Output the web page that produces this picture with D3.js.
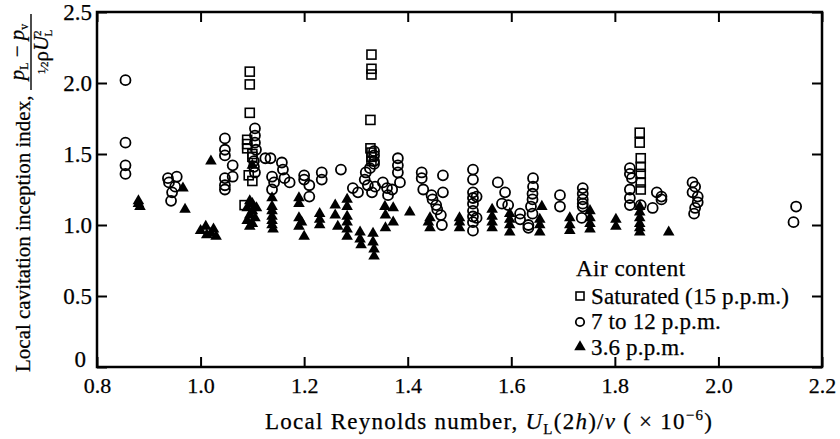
<!DOCTYPE html>
<html lang="en">
<meta charset="utf-8">
<style>
  body { margin: 0; background: #fff; }
  svg text { font-family: "Liberation Serif", "Times New Roman", serif; fill: #000; stroke: #000; stroke-width: 0.25px; }
  .frame { fill: none; stroke: #000; stroke-width: 2.5px; }
  .axis path { display: none; }
  .axis line { stroke: #000; stroke-width: 2px; }
  .circ { fill: none; stroke: #000; stroke-width: 1.8px; }
  .sq { fill: none; stroke: #000; stroke-width: 1.6px; }
  .tri { fill: #000; }
</style>
<body>
<div id="chart"></div>
<script src="https://d3js.org/d3.v7.min.js"></script>
<script>
"use strict";

// tick values
const xTicks = [0.8, 1.0, 1.2, 1.4, 1.6, 1.8, 2.0, 2.2];
const yTicks = [0, 0.5, 1.0, 1.5, 2.0, 2.5];

// air content: saturated (15 p.p.m.) -- [Reynolds, index]
const saturated = [
  [1.095, 2.08], [1.095, 1.99], [1.095, 1.79], [1.09, 1.60], [1.09, 1.57], [1.09, 1.54],
  [1.10, 1.50], [1.10, 1.48], [1.093, 1.35], [1.10, 1.31], [1.085, 1.14],
  [1.33, 2.20], [1.33, 2.10], [1.33, 2.06], [1.328, 1.74], [1.328, 1.54], [1.33, 1.51],
  [1.33, 1.48], [1.33, 1.45],
  [1.848, 1.65], [1.848, 1.58], [1.85, 1.47], [1.85, 1.41], [1.85, 1.36], [1.85, 1.30], [1.85, 1.25]
];

// air content: 7 to 12 p.p.m.
const midAir = [
  [0.855, 2.02], [0.855, 1.58], [0.855, 1.42], [0.855, 1.36],
  [0.954, 1.34], [0.937, 1.33], [0.951, 1.27], [0.939, 1.30], [0.945, 1.23], [0.943, 1.17],
  [1.047, 1.61], [1.047, 1.53], [1.047, 1.49], [1.062, 1.42], [1.062, 1.34], [1.047, 1.33],
  [1.047, 1.28], [1.047, 1.25],
  [1.105, 1.68], [1.105, 1.63], [1.105, 1.58], [1.107, 1.53], [1.103, 1.45], [1.103, 1.41], [1.105, 1.37],
  [1.125, 1.47], [1.135, 1.47], [1.138, 1.34], [1.142, 1.30], [1.138, 1.25],
  [1.157, 1.44], [1.159, 1.39], [1.162, 1.33], [1.172, 1.30],
  [1.20, 1.35], [1.20, 1.32], [1.21, 1.28], [1.21, 1.20],
  [1.234, 1.37], [1.234, 1.32], [1.271, 1.39],
  [1.294, 1.26], [1.304, 1.23], [1.317, 1.32], [1.323, 1.28], [1.331, 1.23], [1.319, 1.37],
  [1.327, 1.40], [1.337, 1.27],
  [1.335, 1.52], [1.335, 1.49], [1.335, 1.45], [1.335, 1.43],
  [1.381, 1.47], [1.381, 1.42], [1.381, 1.37], [1.385, 1.30],
  [1.352, 1.30], [1.36, 1.26], [1.362, 1.21], [1.37, 1.25],
  [1.427, 1.37], [1.427, 1.33], [1.43, 1.25], [1.446, 1.21], [1.448, 1.18], [1.455, 1.14],
  [1.457, 1.11], [1.464, 1.07], [1.466, 1.00], [1.468, 1.35], [1.468, 1.23],
  [1.526, 1.39], [1.526, 1.32], [1.526, 1.23], [1.526, 1.19], [1.526, 1.15], [1.526, 1.10],
  [1.526, 1.06], [1.526, 1.02], [1.526, 0.96], [1.533, 1.20], [1.533, 1.05],
  [1.574, 1.30], [1.588, 1.23], [1.582, 1.15], [1.594, 1.14],
  [1.617, 1.08], [1.617, 1.04], [1.633, 1.00], [1.633, 0.98],
  [1.642, 1.33], [1.642, 1.27], [1.641, 1.22], [1.641, 1.18], [1.638, 1.13], [1.641, 1.08],
  [1.694, 1.21], [1.694, 1.13],
  [1.738, 1.26], [1.738, 1.22], [1.738, 1.18], [1.738, 1.15], [1.738, 1.13], [1.736, 1.05],
  [1.829, 1.40], [1.829, 1.36], [1.833, 1.33], [1.829, 1.25], [1.829, 1.19], [1.829, 1.14], [1.85, 1.14],
  [1.881, 1.23], [1.89, 1.20], [1.89, 1.18], [1.873, 1.12],
  [1.95, 1.30], [1.955, 1.27], [1.95, 1.23], [1.96, 1.20], [1.96, 1.16], [1.955, 1.12], [1.953, 1.08],
  [2.15, 1.13], [2.145, 1.02]
];

// air content: 3.6 p.p.m.
const lowAir = [
  [0.88, 1.17], [0.88, 1.15], [0.883, 1.13],
  [0.966, 1.26], [0.970, 1.11],
  [1.00, 0.96], [1.01, 0.99], [1.02, 0.94], [1.03, 0.92], [1.025, 0.97], [1.012, 0.93],
  [1.02, 1.45],
  [1.10, 1.42], [1.095, 1.17], [1.10, 1.15], [1.09, 1.12], [1.10, 1.10], [1.095, 1.07],
  [1.105, 1.05], [1.09, 1.03], [1.10, 1.01], [1.095, 0.99], [1.108, 1.12],
  [1.138, 1.19], [1.138, 1.13], [1.138, 1.10], [1.138, 1.06], [1.138, 1.03], [1.138, 1.00], [1.14, 0.97],
  [1.19, 1.19], [1.19, 1.15], [1.19, 1.05], [1.195, 1.02], [1.19, 0.99], [1.20, 0.92],
  [1.23, 1.08], [1.23, 1.04], [1.23, 1.00],
  [1.26, 1.14], [1.26, 1.07], [1.265, 0.99],
  [1.283, 1.18], [1.283, 1.13], [1.283, 1.06], [1.283, 1.02], [1.283, 0.97], [1.283, 0.92],
  [1.308, 0.95], [1.308, 0.90], [1.31, 0.86],
  [1.333, 0.94], [1.333, 0.88], [1.335, 0.83], [1.335, 0.78],
  [1.356, 1.13], [1.357, 1.07], [1.372, 1.12], [1.372, 1.02], [1.357, 0.98], [1.404, 1.09],
  [1.443, 1.05], [1.443, 0.98], [1.44, 1.02],
  [1.50, 1.05], [1.50, 1.02], [1.50, 0.98],
  [1.563, 1.11], [1.563, 1.06], [1.563, 1.02], [1.563, 0.98],
  [1.597, 1.08], [1.597, 1.04], [1.597, 1.00], [1.597, 0.95],
  [1.659, 1.13], [1.655, 1.04], [1.655, 1.00], [1.655, 0.95],
  [1.713, 1.05], [1.713, 1.00], [1.713, 0.96],
  [1.752, 1.10], [1.752, 1.05], [1.752, 1.01], [1.752, 0.97],
  [1.802, 1.04], [1.802, 0.99],
  [1.848, 1.13], [1.848, 1.09], [1.848, 1.05], [1.848, 1.01], [1.848, 0.98], [1.848, 0.95],
  [1.904, 0.95]
];

const legendLabels = ["Saturated (15 p.p.m.)", "7 to 12 p.p.m.", "3.6 p.p.m."];

const W = 840, H = 439;
const margin = {top: 12, right: 18, bottom: 72, left: 97};

const svg = d3.select("#chart").append("svg")
  .attr("width", W).attr("height", H);

const x = d3.scaleLinear().domain([0.8, 2.2]).range([margin.left, W - margin.right]);
const y = d3.scaleLinear().domain([0, 2.5]).range([H - margin.bottom, margin.top]);

const fmt = d => d === 0 ? "0" : d3.format(".1f")(d);

// axes, ticks pointing inward
const gx = svg.append("g").attr("class", "axis")
  .attr("transform", "translate(0," + y(0) + ")")
  .call(d3.axisBottom(x).tickValues(xTicks).tickFormat(d3.format(".1f"))
    .tickSizeInner(-10).tickSizeOuter(0).tickPadding(10));
gx.selectAll("text").style("font-size", "22px");

svg.append("g").attr("class", "axis")
  .attr("transform", "translate(0," + y(2.5) + ")")
  .call(d3.axisTop(x).tickValues(xTicks).tickFormat("")
    .tickSizeInner(-10).tickSizeOuter(0));

const gy = svg.append("g").attr("class", "axis")
  .attr("transform", "translate(" + x(0.8) + ",0)")
  .call(d3.axisLeft(y).tickValues(yTicks).tickFormat(fmt)
    .tickSizeInner(-10).tickSizeOuter(0).tickPadding(5));
gy.selectAll("text").style("font-size", "23px");
// lift the "0" so it clears "0.8"
gy.selectAll("text").filter(d => d === 0).attr("y", -8).attr("x", -11);

svg.append("g").attr("class", "axis")
  .attr("transform", "translate(" + x(2.2) + ",0)")
  .call(d3.axisRight(y).tickValues(yTicks).tickFormat("")
    .tickSizeInner(-10).tickSizeOuter(0));

svg.append("rect").attr("class", "frame")
  .attr("x", x(0.8)).attr("y", y(2.5))
  .attr("width", x(2.2) - x(0.8)).attr("height", y(0) - y(2.5));

// markers
const triangle = d3.symbol().type(d3.symbolTriangle).size(58);

svg.append("g").selectAll("path")
  .data(lowAir).join("path")
  .attr("class", "tri")
  .attr("d", triangle)
  .attr("transform", d => "translate(" + x(d[0]) + "," + y(d[1]) + ")");

svg.append("g").selectAll("circle")
  .data(midAir).join("circle")
  .attr("class", "circ")
  .attr("cx", d => x(d[0])).attr("cy", d => y(d[1])).attr("r", 5);

svg.append("g").selectAll("rect")
  .data(saturated).join("rect")
  .attr("class", "sq")
  .attr("x", d => x(d[0]) - 4.5).attr("y", d => y(d[1]) - 4.5)
  .attr("width", 9).attr("height", 9);

// legend
const lg = svg.append("g").attr("transform", "translate(575,0)");
lg.append("text").attr("x", 1).attr("y", 276)
  .style("font-size", "23px").style("letter-spacing", "0.5px").text("Air content");
const rows = [304, 329, 355];
lg.append("rect").attr("class", "sq").attr("x", 1).attr("y", rows[0] - 12).attr("width", 8).attr("height", 8);
lg.append("circle").attr("class", "circ").attr("cx", 5).attr("cy", rows[1] - 7).attr("r", 4.2);
lg.append("path").attr("class", "tri").attr("d", triangle)
  .attr("transform", "translate(5," + (rows[2] - 8) + ")");
legendLabels.forEach((t, i) => {
  lg.append("text").attr("x", 16).attr("y", rows[i])
    .style("font-size", "23px").style("letter-spacing", "0.15px").text(t);
});

// x axis title, stretched to the width it has in the figure
const xt = svg.append("text")
  .attr("x", 265).attr("y", 429)
  .attr("textLength", 447).attr("lengthAdjust", "spacing")
  .style("font-size", "23px");
xt.append("tspan").text("Local Reynolds number, ");
xt.append("tspan").style("font-style", "italic").text("U");
xt.append("tspan").attr("dy", 5).style("font-size", "15px").text("L");
xt.append("tspan").attr("dy", -5).text("(2");
xt.append("tspan").style("font-style", "italic").text("h");
xt.append("tspan").text(")/");
xt.append("tspan").style("font-style", "italic").text("ν");
xt.append("tspan").text(" ( × 10");
xt.append("tspan").attr("dy", -9).style("font-size", "15px").text("−6");
xt.append("tspan").attr("dy", 9).text(")");

// y axis title, rotated
const yt = svg.append("g").attr("transform", "translate(30,372) rotate(-90)");
yt.append("text").attr("x", 0).attr("y", 0).style("font-size", "21px")
  .text("Local cavitation inception index,");
// fraction
const fr = svg.append("g").attr("transform", "translate(0,52) rotate(-90)");
const num = fr.append("text").attr("x", 0).attr("y", 24).attr("text-anchor", "middle")
  .style("font-size", "21px");
num.append("tspan").style("font-style", "italic").text("p");
num.append("tspan").attr("dy", 4).style("font-size", "12px").text("L");
num.append("tspan").attr("dy", -4).text(" − ");
num.append("tspan").style("font-style", "italic").text("p");
num.append("tspan").attr("dy", 4).style("font-size", "12px").text("v");
fr.append("line").attr("x1", -38).attr("x2", 38).attr("y1", 31).attr("y2", 31)
  .attr("stroke", "#000").attr("stroke-width", 1.4);
const den = fr.append("text").attr("x", 0).attr("y", 48).attr("text-anchor", "middle")
  .style("font-size", "21px");
den.append("tspan").attr("dy", -3).style("font-size", "11px").text("1");
den.append("tspan").attr("dy", 3).style("font-size", "11px").text("⁄2");
den.append("tspan").text("ρ");
den.append("tspan").style("font-style", "italic").text("U");
den.append("tspan").attr("dy", -7).style("font-size", "11px").text("2");
den.append("tspan").attr("dx", -6).attr("dy", 11).style("font-size", "11px").text("L");
</script>
</body>
</html>
